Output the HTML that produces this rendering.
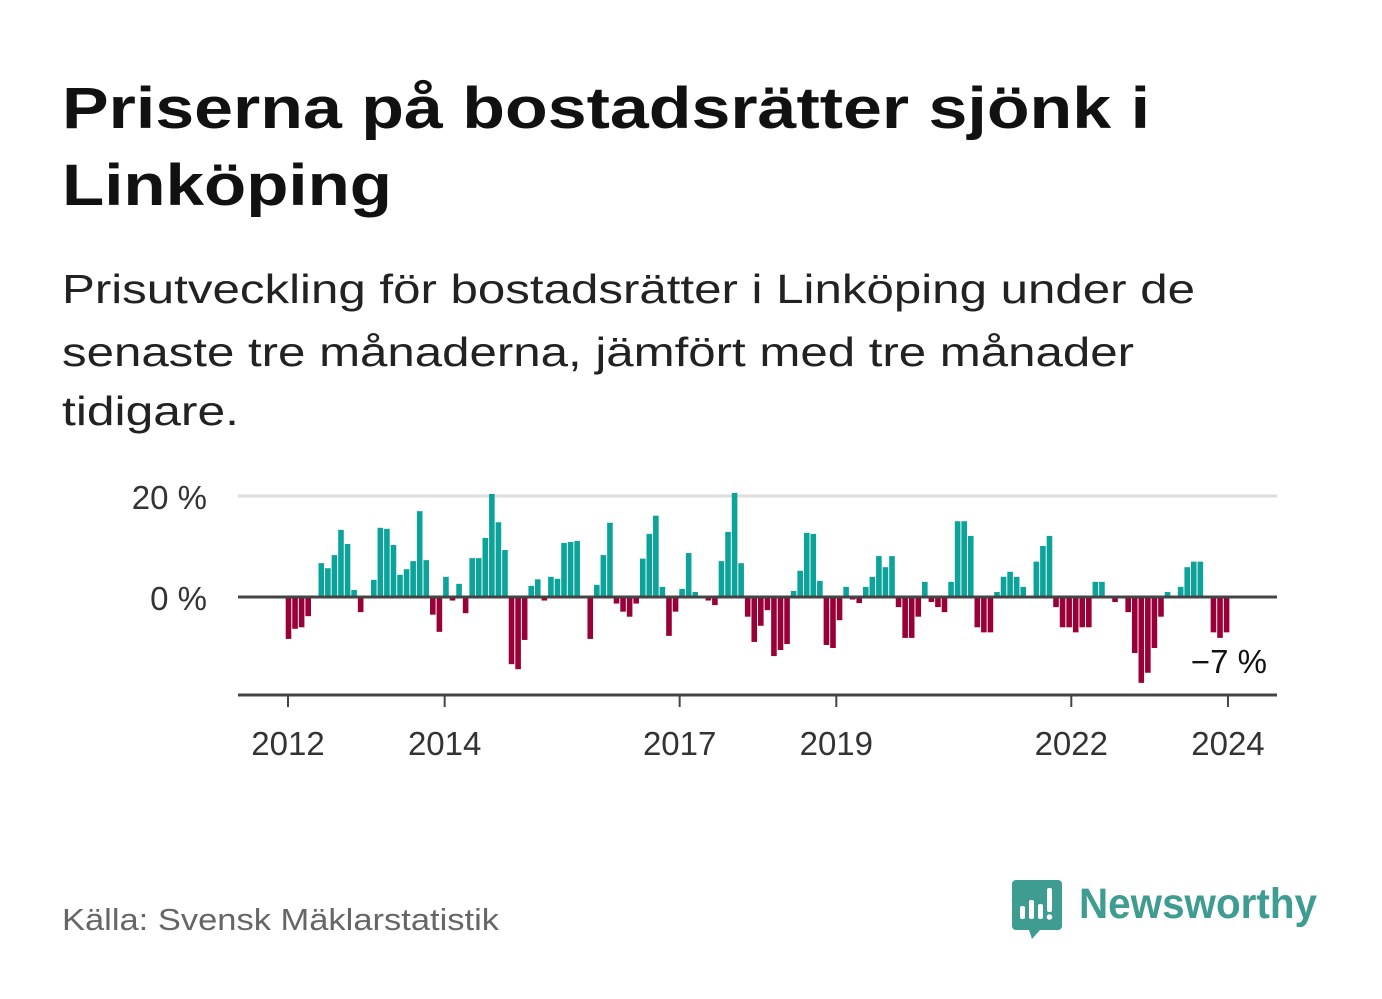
<!DOCTYPE html>
<html><head><meta charset="utf-8">
<style>
html,body{margin:0;padding:0;background:#fff;}
svg{display:block;font-family:"Liberation Sans",sans-serif;}
</style></head>
<body>
<svg width="1382" height="999" viewBox="0 0 1382 999" xmlns="http://www.w3.org/2000/svg">
<text x="62" y="128" font-size="58" font-weight="bold" fill="#111" textLength="1088" lengthAdjust="spacingAndGlyphs">Priserna på bostadsrätter sjönk i</text>
<text x="62" y="205" font-size="58" font-weight="bold" fill="#111" textLength="330" lengthAdjust="spacingAndGlyphs">Linköping</text>
<text x="62" y="303" font-size="41" fill="#222" textLength="1133" lengthAdjust="spacingAndGlyphs">Prisutveckling för bostadsrätter i Linköping under de</text>
<text x="62" y="366" font-size="41" fill="#222" textLength="1072" lengthAdjust="spacingAndGlyphs">senaste tre månaderna, jämfört med tre månader</text>
<text x="62" y="425" font-size="41" fill="#222" textLength="177" lengthAdjust="spacingAndGlyphs">tidigare.</text>
<g id="plot"></g>
<text x="62" y="930" font-size="31" fill="#666" textLength="437" lengthAdjust="spacingAndGlyphs">Källa: Svensk Mäklarstatistik</text>
<g>
<path d="M1016 880 h42 a4 4 0 0 1 4 4 v42 a4 4 0 0 1 -4 4 h-18 l-8 9 l-3 -9 h-13 a4 4 0 0 1 -4 -4 v-42 a4 4 0 0 1 4 -4z" fill="#3f9c91"/>
<rect x="1020" y="906" width="5" height="13" rx="2" fill="#fff"/>
<rect x="1029" y="900" width="5" height="19" rx="2" fill="#fff"/>
<rect x="1038" y="904" width="5" height="15" rx="2" fill="#fff"/>
<rect x="1047" y="888" width="5" height="24" rx="2" fill="#fff"/>
<circle cx="1049.5" cy="917" r="2.8" fill="#fff"/>
<text x="1079" y="918" font-size="43" font-weight="bold" fill="#3f9c91" textLength="238" lengthAdjust="spacingAndGlyphs">Newsworthy</text>
</g>
</svg>
<script>
const values = [-8.3,-6.3,-6.0,-3.8,0,6.7,5.7,8.3,13.3,10.5,1.4,-3.0,
0,3.4,13.7,13.5,10.3,4.4,5.5,7.1,17.0,7.3,-3.5,-6.9,
4.0,-0.7,2.6,-3.2,7.7,7.7,11.7,20.4,14.8,9.3,-13.3,-14.3,
-8.5,2.2,3.5,-0.7,4.0,3.6,10.7,10.9,11.1,0,-8.3,2.4,
8.3,14.7,-1.3,-2.9,-3.9,-1.3,7.6,12.5,16.1,2.0,-7.7,-2.9,
1.6,8.7,1.0,0,-0.7,-1.6,7.1,12.9,20.6,6.7,-3.9,-8.9,
-5.7,-2.6,-11.7,-10.5,-9.3,1.2,5.2,12.7,12.5,3.2,-9.5,-10.1,
-4.6,2.0,-0.5,-1.2,2.0,4.0,8.1,5.9,8.1,-2.0,-8.1,-8.1,
-3.9,3.0,-1.0,-2.0,-3.0,3.0,15.0,15.0,12.1,-6.0,-7.0,-7.0,
1.0,4.0,5.0,4.0,2.0,0,7.0,10.1,12.1,-2.0,-6.0,-6.0,
-7.0,-6.0,-6.0,3.0,3.0,0,-1.0,0,-3.0,-11.1,-17.0,-15.0,
-10.1,-3.9,1.0,0,2.0,5.9,7.0,7.0,0,-7.0,-8.1,-7.0];
const startYear = 2012;
const xTickYears = [2012,2014,2017,2019,2022,2024];
const yTicks = [0,20];
const yTickLabels = ["0 %","20 %"];
const lastLabel = "−7 %";

const NS="http://www.w3.org/2000/svg";
const g=document.getElementById('plot');
const X0=238,X1=1277;
const monthStep=6.56, firstX=288.5;
function xMonth(i){return firstX+monthStep*i;}
function xYear(y){return 288+78.33*(y-startYear);}
function yScale(v){return 597-v*5.05;}
function mk(tag,attrs){const e=document.createElementNS(NS,tag);for(const k in attrs)e.setAttribute(k,attrs[k]);g.appendChild(e);return e;}

yTicks.forEach((t,k)=>{
  if(t!==0){const l=mk('line',{x1:X0,x2:X1,y1:yScale(t),y2:yScale(t),stroke:'#ddd','stroke-width':3});
  
  }
  const tx=mk('text',{x:207,y:yScale(t)+13,'text-anchor':'end','font-size':33,fill:'#333'});
  tx.textContent=yTickLabels[k];
  
  
});
values.forEach((v,i)=>{
  const y=yScale(Math.max(v,0)),h=Math.abs(yScale(v)-yScale(0));
  if(h<=0)return;
  const r=mk('rect',{x:xMonth(i)-2.8,y:y,width:5.6,height:h,fill:v>=0?'#0ca39a':'#990038'});
  
  
});
const z=mk('line',{x1:X0,x2:X1,y1:yScale(0),y2:yScale(0),stroke:'#444','stroke-width':3});


const ax=mk('line',{x1:X0,x2:X1,y1:695,y2:695,stroke:'#444','stroke-width':3});


xTickYears.forEach(yr=>{
  const x=xYear(yr);
  const t=mk('line',{x1:x,x2:x,y1:695,y2:707,stroke:'#444','stroke-width':2});
  
  
  const tx=mk('text',{x:x,y:755,'text-anchor':'middle','font-size':33,fill:'#333'});
  tx.textContent=String(yr);
  
  
});
const ll=mk('text',{x:1267,y:673,'text-anchor':'end','font-size':33,fill:'#111'});
ll.textContent=lastLabel;


</script>
</body></html>
